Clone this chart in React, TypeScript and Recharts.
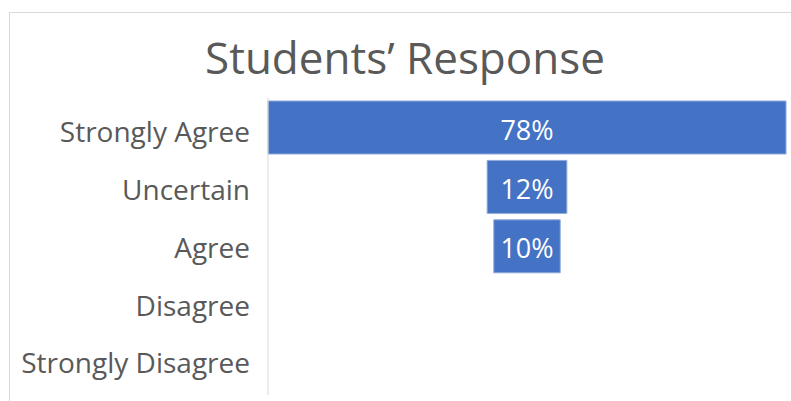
import { Bar, BarChart, LabelList, XAxis, YAxis } from "recharts";

const categories = ["Strongly Agree", "Uncertain", "Agree", "Disagree", "Strongly Disagree"];
const shares = [78, 12, 10, 0, 0];
const title = "Students’ Response";

const FONT = "'Open Sans', sans-serif";
const maxShare = Math.max(...shares);

// funnel: an invisible pad on the left centres every bar
const rows = categories.map((name, i) => ({
  name,
  pad: (maxShare - shares[i]) / 2,
  value: shares[i],
}));

function CategoryTick(props: any) {
  const { x, y, payload, index } = props;
  // labels sit on a slightly tighter pitch than the bars in the original
  const dy = 14.5 - 1.6 * (index ?? payload.index ?? 0);
  return (
    <text x={x} y={y + dy} textAnchor="end" fill="#595959" fontSize={28} fontFamily={FONT}>
      {payload.value}
    </text>
  );
}

function ShareLabel(props: any) {
  const { x, y, width, height, value } = props;
  if (!value) return null;
  return (
    <text
      x={x + width / 2}
      y={y + height / 2 + 12}
      textAnchor="middle"
      fill="#ffffff"
      fontSize={27}
      fontFamily={FONT}
    >
      {`${value}%`}
    </text>
  );
}

export default function App() {
  return (
    <div
      style={{
        position: "fixed",
        left: 0,
        top: 0,
        width: 791,
        height: 401,
        background: "#fff",
        overflow: "hidden",
        fontFamily: FONT,
      }}
    >
      <div
        style={{
          position: "absolute",
          left: 9,
          top: 12,
          width: 900,
          height: 500,
          border: "1px solid #d9d9d9",
        }}
      />
      <div
        style={{
          position: "absolute",
          left: 0,
          width: 810,
          top: 29,
          textAlign: "center",
          fontSize: 44,
          color: "#595959",
          lineHeight: "56px",
        }}
      >
        {title}
      </div>
      <div style={{ position: "absolute", left: 0, top: 0 }}>
        <BarChart
          width={791}
          height={401}
          data={rows}
          layout="vertical"
          margin={{ top: 98, right: 5, bottom: 6, left: 0 }}
        >
          <XAxis type="number" hide domain={[0, maxShare]} />
          <YAxis
            type="category"
            dataKey="name"
            width={268}
            axisLine={{ stroke: "#d9d9d9" }}
            tickLine={false}
            tickSize={0}
            tickMargin={18}
            interval={0}
            tick={<CategoryTick />}
          />
          <Bar dataKey="pad" stackId="f" fill="transparent" barSize={53} isAnimationActive={false} />
          <Bar dataKey="value" stackId="f" fill="#4472c4" stroke="#8faadc" strokeWidth={1} barSize={53} isAnimationActive={false}>
            <LabelList dataKey="value" content={<ShareLabel />} />
          </Bar>
        </BarChart>
      </div>
    </div>
  );
}
